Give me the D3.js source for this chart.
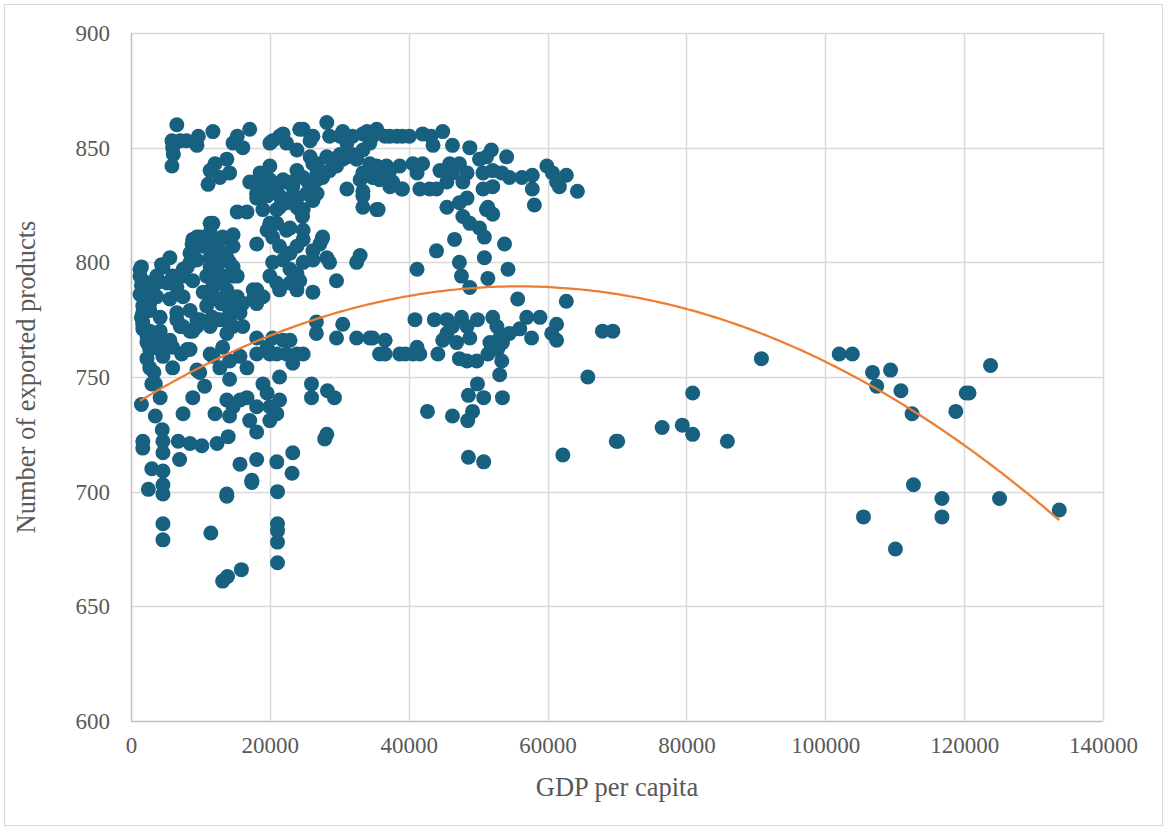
<!DOCTYPE html>
<html>
<head>
<meta charset="utf-8">
<script src="https://cdn.jsdelivr.net/npm/d3@7"></script>
<style>
  body { margin: 0; background: #fff; }
  svg text { font-family: "Liberation Serif", "Times New Roman", serif; fill: #595959; }
</style>
</head>
<body>
<div id="chart"></div>
<script>
// axis ticks
const xTicks = [0, 20000, 40000, 60000, 80000, 100000, 120000, 140000];
const yTicks = [600, 650, 700, 750, 800, 850, 900];

// polynomial (order 2) trendline: a + b*x + c*x^2
const trendCoef = [737.2, 1.875e-3, -1.68e-8];

// [GDP per capita, number of exported products]
const scatterPoints = [
  // top-left group around 850
  [6600,860],[5900,853],[6000,850],[7100,853],[8000,853],[9700,855],[9500,851],[11800,857],
  [6100,847],[5900,842],[15300,855],[14700,852],[16100,850],[17100,858],[12100,843],[13800,845],
  [11400,840],[12800,837],[11100,834],[14200,839],
  // top band
  [20000,852],[21400,855],[22400,852],[23900,849],[24800,858],[25800,853],[28200,861],[28600,855],
  [30500,857],[31900,855],[34000,857],[34800,855],[20400,853],[21900,856],[24300,858],[26200,855],
  [30100,855],[31100,852],[33400,856],[35400,858],[37300,855],[39100,855],
  // second band
  [20000,842],[18600,838],[17100,835],[18100,830],[19000,833],[20000,836],[21000,833],[22400,835],
  [23300,833],[19600,829],[21400,829],[22400,826],[21000,823],[23900,824],[24800,823],[24700,820],
  [25300,830],[26200,834],[26800,839],[27600,837],[26800,830],[26200,827],[28600,840],[29600,842],
  [30500,845],[30100,847],[31900,847],[33400,849],[34400,852],[35400,842],[34800,837],[33400,839],
  [33000,836],[31100,832],[33400,829],[33400,824],[35400,823],[28200,846],[26800,843],[25800,846],
  [24800,837],[23900,840],[26200,843],[27600,839],[29100,845],[31100,846],[32500,845],[36800,842],
  [38700,842],[35800,836],[37700,835],[39100,832],[33400,831],[35600,823],[18600,839],[18100,828],
  [20400,833],[21900,836],[23300,835],[22900,828],[21400,824],[24300,823],[23900,828],[25500,835],
  [26800,836],[15300,822],[19000,823],[20000,817],[19600,814],[22900,815],[24800,814],[27600,811],
  // 40k-65k upper group
  [34800,856],[36600,855],[38300,855],[40100,855],[42000,856],[43200,855],[44900,857],[43500,851],
  [46300,851],[48800,850],[51900,849],[54100,846],[50200,845],[51200,846],[34400,843],[35400,840],
  [37300,840],[37300,833],[39000,832],[40600,843],[42000,843],[41200,839],[41600,832],[43000,832],
  [44000,832],[44500,840],[45900,843],[45500,835],[46300,839],[47300,843],[48400,839],[47800,835],
  [48400,828],[47300,826],[45500,824],[47800,820],[48800,817],[50200,815],[50900,811],[46600,810],
  [44000,805],[51200,823],[52100,821],[51400,824],[50700,832],[52100,833],[50700,839],[52100,840],
  [53400,839],[54500,837],[56300,837],[57800,838],[57800,832],[58100,825],[59900,842],[60700,839],
  [61300,835],[61700,833],[62700,838],[64300,831],[53800,808],[50900,802],[47300,800],[47600,794],
  [51400,793],[54300,797],[41200,797],[48800,789],[55700,784],[62700,783],
  // left middle mass
  [11800,817],[11400,813],[9900,811],[8900,810],[9500,807],[10900,808],[12400,810],[13200,811],
  [14200,810],[14700,812],[12800,805],[11400,802],[13800,802],[14200,800],[9500,801],[8500,804],
  [8100,798],[7500,794],[8900,792],[10900,794],[12400,797],[13200,794],[14700,794],[10900,787],
  [11800,789],[13800,788],[15300,785],[13000,782],[5600,802],[4400,799],[1500,798],[1300,794],
  [2300,791],[3700,794],[5200,791],[6600,789],[7500,785],[3700,785],[1700,785],[2700,782],
  [18100,808],[21000,817],[22400,814],[20400,811],[21400,807],[22900,804],[23900,807],[24800,810],
  [26200,805],[21900,801],[20400,800],[20000,794],[21000,791],[22900,797],[23900,795],[22900,791],
  [24300,792],[24800,800],[26200,801],[27200,808],[28200,802],[27500,810],[28600,800],[29600,792],
  [26200,787],[23900,788],[21400,788],[18100,788],[17600,784],[19000,785],[33000,803],[32500,800],
  [1300,797],[1700,792],[1300,786],[2700,788],[3700,791],[4600,798],[6000,794],[7500,797],
  [8500,800],[8800,808],[9500,811],[11400,817],[10400,807],[12400,805],[11400,798],[12800,801],
  [16700,822],[14700,807],[14700,798],[15300,794],[13200,792],[11800,791],[10400,787],[12400,784],
  [10900,781],[13800,782],[16100,782],[14200,776],[14700,772],[16100,772],[17600,788],[5600,784],
  [4200,776],[6600,778],[8500,779],[9900,775],[2700,779],[1700,774],[2300,768],[4200,770],
  [5600,766],[7100,772],[8500,770],[9500,772],[11400,772],[12400,775],[4200,762],[6000,763],
  [8100,762],[11400,760],[18100,767],[19600,763],[21000,760],[21900,766],[22400,760],
  [1500,790],[1700,781],[1500,776],[1700,771],[2300,765],[2700,762],[2300,758],[3300,752],[3000,747],
  // left lower part
  [1500,738],[3500,733],[1700,722],[1700,719],[4500,727],[4600,722],[4600,717],[3000,710],
  [4600,709],[2500,701],[4600,703],[4600,699],[7500,734],[6800,722],[8500,721],[10200,720],
  [7000,714],[8900,741],[9900,752],[12100,734],[12400,721],[14000,724],[15700,712],[18100,714],
  [17400,705],[21000,713],[21100,700],[23300,717],[23200,708],[27900,723],[13800,699],[14700,737],
  [14200,733],[16700,741],[18100,737],[17100,731],[18100,726],[20000,737],[20000,731],[21000,734],
  [21400,740],[21400,750],[19000,747],[19600,743],[15700,740],[13800,740],[10600,746],[9500,753],
  [12800,754],[14200,749],[14200,757],[16700,754],[15700,759],[18100,760],[20000,760],[20400,767],
  [22900,766],[23900,760],[23300,756],[24800,760],[26000,747],[26000,741],[28300,744],[29300,741],
  [28200,725],[26700,769],[29600,767],[30500,773],[26700,774],[32500,767],[34400,767],[35800,760],
  [4200,741],[3500,747],[2700,754],[4600,759],[6000,754],[7300,760],[8500,762],[5200,763],
  [3700,766],[2700,770],[1700,773],[1700,778],[6600,775],[9500,775],[7500,772],[8900,770],
  [11700,776],[12800,775],[14200,773],[13800,769],[13200,763],[11800,759],[14200,779],[15700,778],
  [15700,782],[18100,782],
  // bottom outliers
  [13800,698],[17400,704],[4600,686],[4600,679],[11500,682],[21100,686],[21100,683],[21100,678],
  [21100,669],[15900,666],[13900,663],[13200,661],
  // 40k-70k lower group
  [40900,775],[43700,775],[45500,775],[47600,776],[49900,775],[52100,776],[52700,772],[57000,776],
  [58900,776],[61300,773],[61300,766],[60600,769],[57700,767],[56000,771],[54500,769],[53500,765],
  [53100,767],[51700,765],[51400,760],[49800,757],[48400,757],[47300,758],[46900,765],[45500,769],
  [44900,766],[44200,760],[48800,767],[48400,772],[46300,772],[52800,762],[53400,757],[53100,751],
  [49900,747],[48600,742],[50800,741],[53500,741],[49200,735],[48500,731],[46300,733],[42700,735],
  [48600,715],[50800,713],[62200,716],[65800,750],[67900,770],[69400,770],[69900,722],[34800,767],
  [36600,766],[36600,760],[38700,760],[40600,760],[41600,760],[41200,763],[39500,760],
  // high income
  [90800,758],[102000,760],[103900,760],[106800,752],[109400,753],[107400,746],[110900,744],
  [112500,734],[120300,743],[120700,743],[118800,735],[123800,755],[112700,703],[116800,697],
  [116800,689],[105500,689],[110100,675],[125100,697],[133700,692],[80900,743],[76500,728],
  [79400,729],[80900,725],[85900,722],[70100,722]
];

const width = 1168, height = 830;
const margin = {top: 33, right: 64, bottom: 109, left: 131};

const svg = d3.select("#chart")
  .append("svg")
    .attr("width", width)
    .attr("height", height);

// outer chart border
svg.append("rect")
  .attr("x", 4.5).attr("y", 4.5)
  .attr("width", width - 10).attr("height", height - 9)
  .attr("fill", "#fff")
  .attr("stroke", "#d9d9d9");

const x = d3.scaleLinear()
  .domain([0, 140000])
  .range([margin.left, width - margin.right - 1]);

const y = d3.scaleLinear()
  .domain([600, 900])
  .range([height - margin.bottom, margin.top]);

// gridlines
svg.append("g")
  .selectAll("line.h")
  .data(yTicks)
  .join("line")
    .attr("x1", x(0)).attr("x2", x(140000))
    .attr("y1", d => Math.round(y(d)) + 0.5).attr("y2", d => Math.round(y(d)) + 0.5)
    .attr("stroke", d => d === 600 ? "#bfbfbf" : "#d9d9d9")
    .attr("stroke-width", 1.5);

svg.append("g")
  .selectAll("line.v")
  .data(xTicks)
  .join("line")
    .attr("x1", d => Math.round(x(d)) + 0.5).attr("x2", d => Math.round(x(d)) + 0.5)
    .attr("y1", y(900)).attr("y2", y(600))
    .attr("stroke", d => d === 0 ? "#bfbfbf" : "#d9d9d9")
    .attr("stroke-width", 1.5);

// tick labels
const yAxis = svg.append("g")
  .attr("transform", `translate(${x(0) - 21},0)`)
  .call(d3.axisLeft(y).tickValues(yTicks).tickSize(0).tickPadding(0));
yAxis.select(".domain").remove();
yAxis.selectAll("text")
  .style("font-size", "23px")
  .style("font-family", "Liberation Serif, serif")
  .attr("fill", "#595959");

const xAxis = svg.append("g")
  .attr("transform", `translate(0,${y(600) + 16})`)
  .call(d3.axisBottom(x).tickValues(xTicks).tickSize(0).tickPadding(0).tickFormat(d3.format("d")));
xAxis.select(".domain").remove();
xAxis.selectAll("text")
  .style("font-size", "23px")
  .style("font-family", "Liberation Serif, serif")
  .attr("fill", "#595959");

// axis titles
svg.append("text")
  .attr("x", (x(0) + x(140000)) / 2)
  .attr("y", 796)
  .attr("text-anchor", "middle")
  .style("font-size", "26.5px")
  .text("GDP per capita");

svg.append("text")
  .attr("transform", `translate(35,${(y(600) + y(900)) / 2}) rotate(-90)`)
  .attr("text-anchor", "middle")
  .style("font-size", "26.5px")
  .text("Number of exported products");

// points
svg.append("g")
  .selectAll("circle")
  .data(scatterPoints)
  .join("circle")
    .attr("cx", d => x(d[0]))
    .attr("cy", d => y(d[1]))
    .attr("r", 7.5)
    .attr("fill", "#17607f");

// trendline
const ext = d3.extent(scatterPoints, d => d[0]);
const trendX = d3.range(ext[0], ext[1], 500).concat([ext[1]]);
const trend = trendX.map(v => [v, trendCoef[0] + trendCoef[1] * v + trendCoef[2] * v * v]);

svg.append("path")
  .datum(trend)
  .attr("fill", "none")
  .attr("stroke", "#ed7d31")
  .attr("stroke-width", 2.25)
  .attr("d", d3.line()
    .x(d => x(d[0]))
    .y(d => y(d[1]))
  );
</script>
</body>
</html>
